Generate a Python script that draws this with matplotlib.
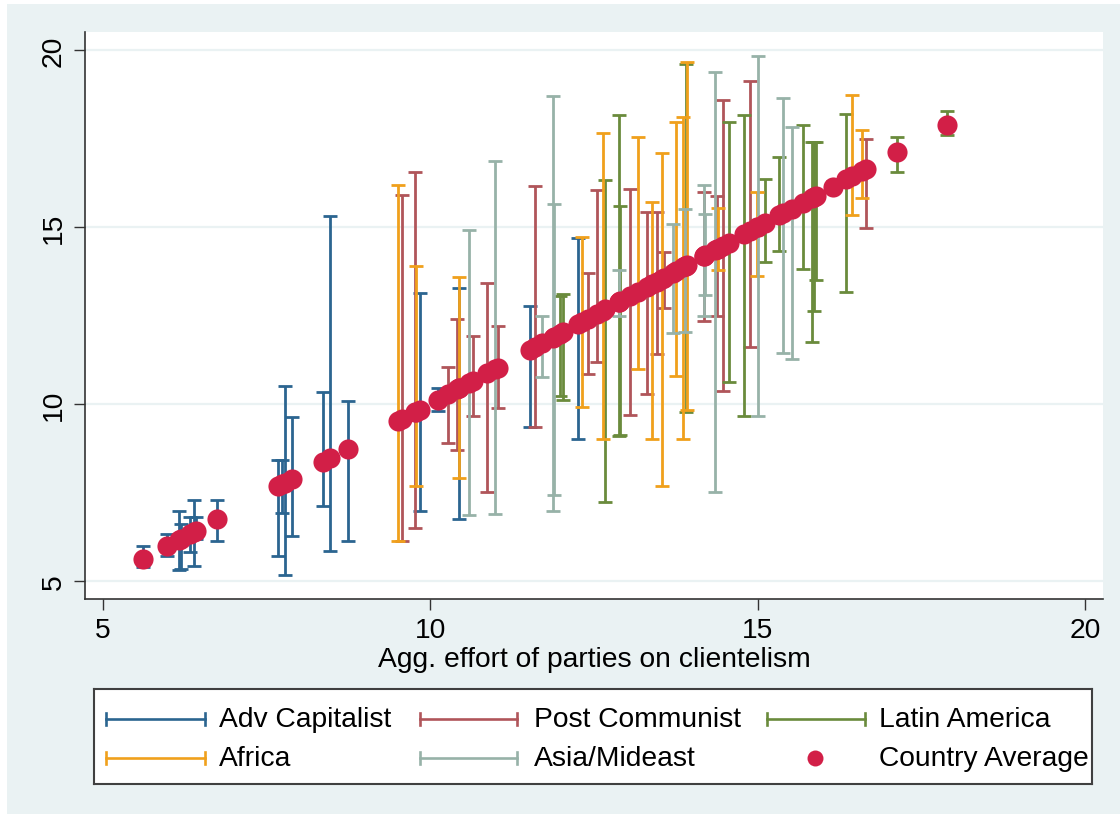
import numpy as np
import matplotlib.pyplot as plt
from matplotlib.patches import Rectangle

plt.rcParams['font.family'] = ['Liberation Sans', 'DejaVu Sans']

# Party-effort range per country (min/max), placed at the country average
adv_x = [5.61, 5.98, 6.16, 6.19, 6.33, 6.39, 6.42, 6.74, 7.67, 7.73, 7.78, 7.89,
         8.36, 8.47, 8.74, 9.84, 10.12, 10.44, 11.52, 12.26]
adv_lo = [5.40, 5.71, 5.31, 5.35, 5.82, 5.43, 6.19, 6.13, 5.71, 6.92, 5.17, 6.27,
          7.12, 5.85, 6.13, 6.98, 9.80, 6.75, 9.35, 9.01]
adv_hi = [5.99, 6.33, 6.98, 6.61, 6.81, 7.29, 6.81, 7.29, 8.42, 8.42, 10.51, 9.63,
          10.34, 15.31, 10.08, 13.14, 10.45, 13.28, 12.77, 14.69]

post_x = [9.57, 9.77, 10.27, 10.41, 10.65, 10.87, 11.03, 11.60, 12.41, 12.55,
          13.05, 13.31, 13.46, 13.57, 14.18, 14.38, 14.47, 14.88, 16.65]
post_lo = [6.13, 6.50, 8.90, 8.70, 9.66, 7.51, 9.89, 9.35, 10.85, 11.19,
           9.69, 10.28, 11.41, 12.71, 12.34, 12.49, 10.37, 11.61, 14.97]
post_hi = [15.90, 16.55, 11.05, 12.40, 11.92, 13.42, 12.20, 16.16, 13.70, 16.05,
           16.07, 15.42, 15.42, 14.29, 15.99, 15.88, 18.59, 19.12, 17.49]

latam_x = [11.98, 12.03, 12.67, 12.88, 12.90, 13.90, 14.56, 14.79, 15.11, 15.33,
           15.69, 15.83, 15.86, 15.88, 16.14, 16.35, 17.13, 17.89]
latam_lo = [10.23, 10.10, 7.23, 9.10, 9.12, 9.77, 10.62, 9.66, 14.01, 14.32,
            13.81, 11.75, 12.63, 13.50, 15.99, 13.16, 16.55, 17.60]
latam_hi = [13.05, 13.10, 16.33, 18.16, 15.60, 19.60, 17.97, 18.16, 16.36, 16.98,
            17.88, 17.40, 17.40, 17.40, 16.30, 18.19, 17.55, 18.28]

africa_x = [9.51, 9.78, 10.44, 12.32, 12.64, 13.17, 13.39, 13.54, 13.75, 13.86,
            13.92, 14.39, 14.99, 16.44, 16.59]
africa_lo = [6.13, 7.68, 7.91, 9.92, 9.01, 10.99, 9.01, 7.68, 10.79, 9.01,
             9.83, 13.79, 13.62, 15.34, 15.82]
africa_hi = [16.19, 13.90, 13.59, 14.72, 17.66, 17.54, 15.71, 17.09, 17.97, 18.10,
             19.66, 15.54, 15.99, 18.73, 17.74]

asia_x = [10.59, 10.99, 11.71, 11.87, 11.89, 12.88, 13.71, 13.89, 14.18, 14.20,
          14.35, 15.00, 15.39, 15.52]
asia_lo = [6.86, 6.89, 10.76, 6.98, 7.43, 12.49, 12.00, 12.03, 12.49, 13.08,
           7.51, 9.66, 11.44, 11.27]
asia_hi = [14.92, 16.86, 12.49, 18.70, 15.65, 13.79, 15.08, 15.50, 16.19, 15.37,
           19.38, 19.83, 18.64, 17.82]

# Stata s2color-like palette
bg = '#EAF2F3'
blue = '#2B6590'
red = '#B0555A'
green = '#6A8B3C'
orange = '#F0A01C'
sage = '#97B2A8'
dot = '#D21F47'

groups = [
    ('Adv Capitalist', adv_x, adv_lo, adv_hi, blue),
    ('Post Communist', post_x, post_lo, post_hi, red),
    ('Latin America', latam_x, latam_lo, latam_hi, green),
    ('Africa', africa_x, africa_lo, africa_hi, orange),
    ('Asia/Mideast', asia_x, asia_lo, asia_hi, sage),
]

W, H = 1120, 820
fs = 20.3
fig = plt.figure(figsize=(W / 100, H / 100), dpi=100)
fig.patch.set_facecolor('white')
fig.patches.append(Rectangle((7 / W, 5 / H), 1113 / W, 810 / H, transform=fig.transFigure,
                             facecolor=bg, edgecolor='none', zorder=-10))

ax = fig.add_axes([85 / W, 1 - 600 / H, 1018 / W, 567 / H])
ax.set_facecolor('white')

for name, xs, lo, hi, col in groups:
    xs, lo, hi = np.array(xs), np.array(lo), np.array(hi)
    ax.errorbar(xs, (lo + hi) / 2, yerr=(hi - lo) / 2, fmt='none', ecolor=col,
                elinewidth=2.0, capsize=4.7, capthick=2.0, zorder=3)

# Country averages sit on the 45-degree line
avg = np.sort(np.concatenate([adv_x, post_x, latam_x, africa_x, asia_x]))
ax.plot(avg, avg, 'o', ms=14.5, color=dot, mec='none', zorder=5)

ax.set_xlim(4.725, 20.27)
ax.set_ylim(4.49, 20.51)
ax.set_xticks([5, 10, 15, 20])
ax.set_yticks([5, 10, 15, 20])
ax.grid(axis='y', color=bg, lw=1.6)
ax.set_axisbelow(True)
for side in ['top', 'right']:
    ax.spines[side].set_visible(False)
for side in ['left', 'bottom']:
    ax.spines[side].set_color('#333333')
    ax.spines[side].set_linewidth(1.2)
ax.tick_params(length=8, width=1, color='#333333', labelsize=fs, pad=5)
for lab in ax.get_yticklabels():
    lab.set_rotation(90)
    lab.set_va('center')
ax.set_xlabel('Agg. effort of parties on clientelism', fontsize=fs, labelpad=2)

# Legend box, drawn in pixel coordinates
lax = fig.add_axes([94 / W, 1 - 785 / H, 998 / W, 95 / H])
lax.set_xlim(94, 1092)
lax.set_ylim(785, 690)
lax.set_xticks([])
lax.set_yticks([])
lax.set_facecolor('white')
for sp in lax.spines.values():
    sp.set_color('#404040')
    sp.set_linewidth(1.5)

slots = [(106, 205, 219, 720), (420, 517, 534, 720), (767, 865, 879, 720),
         (106, 205, 219, 759), (420, 517, 534, 759)]
for (x0, x1, tx, y), (name, _, _, _, col) in zip(slots, groups):
    lax.plot([x0, x1], [y, y], color=col, lw=1.9)
    lax.plot([x0, x0], [y - 6, y + 6], color=col, lw=1.9)
    lax.plot([x1, x1], [y - 6, y + 6], color=col, lw=1.9)
    lax.text(tx, y, name, fontsize=fs, va='center', ha='left')
lax.plot(815, 759, 'o', ms=11.5, color=dot, mec='none')
lax.text(879, 759, 'Country Average', fontsize=fs, va='center', ha='left')

fig.savefig('out.png', dpi=100)
